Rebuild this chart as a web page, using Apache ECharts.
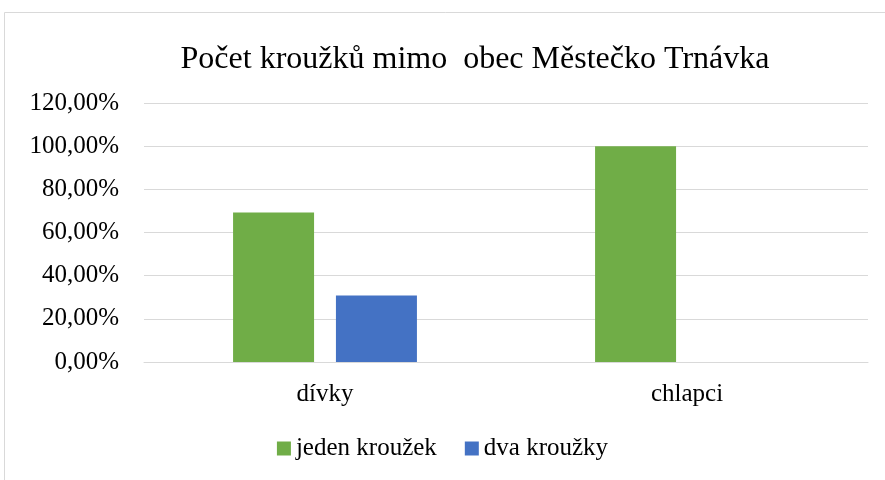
<!DOCTYPE html>
<html>
<head>
<meta charset="utf-8">
<script src="https://cdn.jsdelivr.net/npm/echarts@6/dist/echarts.min.js"></script>
<style>
  html, body { margin: 0; padding: 0; background: #fff; }
  #chart { width: 885px; height: 480px; }
</style>
</head>
<body>
<div id="chart"></div>
<script>
// kategorie a hodnoty (v %)
const kategorie = ['dívky', 'chlapci'];
const jedenKrouzek = [69.23, 100];
const dvaKrouzky = [30.77, 0];
const yTicks = [0, 20, 40, 60, 80, 100, 120];

var chartDom = document.getElementById('chart');
var myChart = echarts.init(chartDom);

const font = '"Liberation Serif", "Times New Roman", serif';

const option = {
  backgroundColor: '#fff',
  animation: false,
  textStyle: { fontFamily: font, color: '#000' },
  graphic: [
    {
      type: 'rect',
      shape: { x: 4.5, y: 12.5, width: 900, height: 500 },
      style: { fill: 'none', stroke: '#d9d9d9', lineWidth: 1 }
    }
  ],
  title: {
    text: 'Počet kroužků mimo  obec Městečko Trnávka',
    left: 470,
    textAlign: 'center',
    top: 39,
    textStyle: { fontFamily: font, fontSize: 32, fontWeight: 'normal', color: '#000' }
  },
  legend: {
    bottom: 14,
    left: 'center',
    itemWidth: 14,
    itemHeight: 14,
    itemGap: 28,
    icon: 'rect',
    textStyle: { fontFamily: font, fontSize: 25, color: '#000' },
    data: ['jeden kroužek', 'dva kroužky']
  },
  grid: {
    left: 144,
    right: 17,
    top: 103,
    bottom: 118
  },
  xAxis: {
    type: 'category',
    data: kategorie,
    axisLine: { lineStyle: { color: '#d9d9d9', width: 1 } },
    axisTick: { show: false },
    axisLabel: { fontFamily: font, fontSize: 25, color: '#000', margin: 20 }
  },
  yAxis: {
    type: 'value',
    min: yTicks[0],
    max: yTicks[yTicks.length - 1],
    interval: 20,
    axisLine: { show: false },
    axisTick: { show: false },
    splitLine: { lineStyle: { color: '#d9d9d9', width: 1 } },
    axisLabel: {
      fontFamily: font,
      fontSize: 25,
      color: '#000',
      margin: 25,
      formatter: function (v) { return v.toFixed(2).replace('.', ',') + '%'; }
    }
  },
  series: [
    {
      name: 'jeden kroužek',
      type: 'bar',
      data: jedenKrouzek,
      barWidth: 81,
      barGap: '27%',
      itemStyle: { color: '#70ad47' }
    },
    {
      name: 'dva kroužky',
      type: 'bar',
      data: dvaKrouzky,
      barWidth: 81,
      itemStyle: { color: '#4472c4' }
    }
  ]
};

option && myChart.setOption(option);
</script>
</body>
</html>
